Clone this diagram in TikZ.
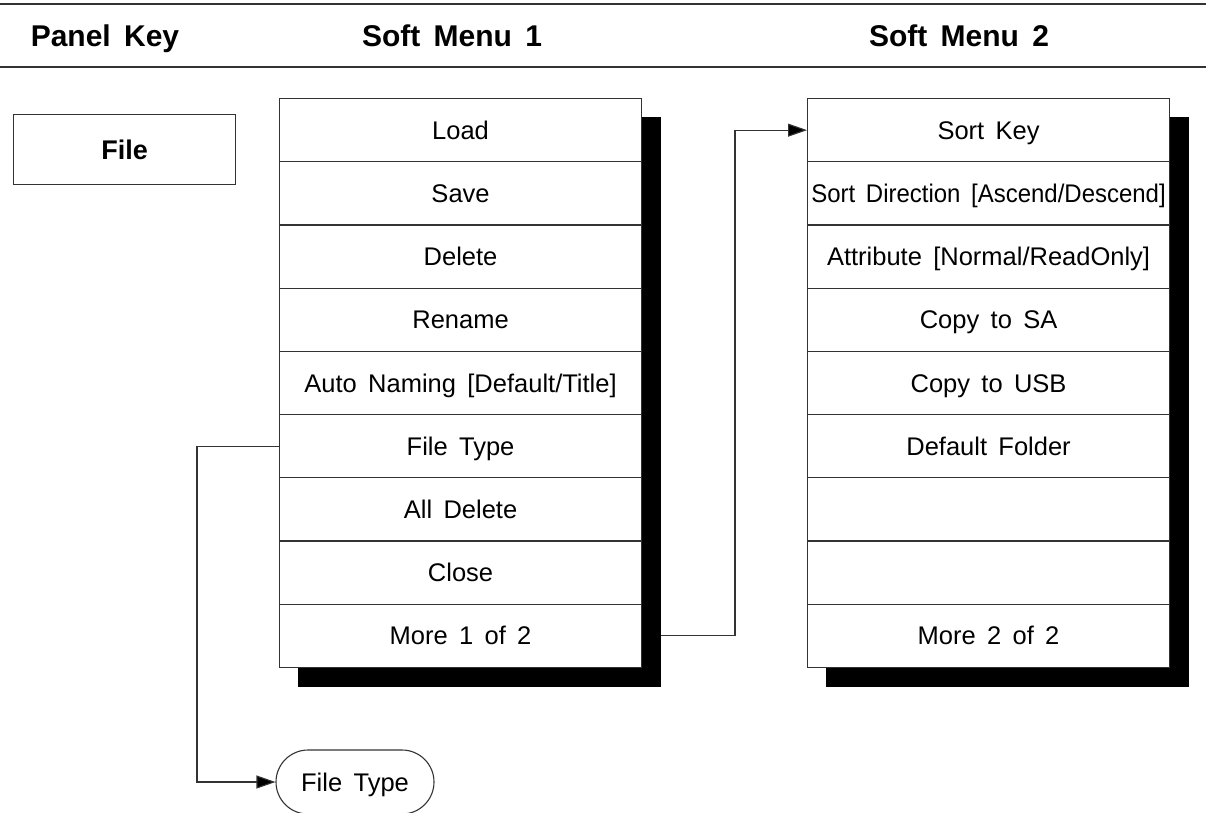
\documentclass[tikz,border=0pt]{standalone}
\usepackage{fontspec}
\setmainfont{Liberation Sans}[WordSpace=1.6]
\usetikzlibrary{arrows.meta,shapes.misc}
\begin{document}
\begin{tikzpicture}[x=1pt,y=-1pt,
  rule/.style={line width=2.2pt, draw=black!80},
  hdr/.style={font=\fontsize{30}{34}\selectfont\bfseries, anchor=base, inner sep=0},
  keybox/.style={draw=black!80, line width=1.1pt, minimum width=222pt, minimum height=70pt, inner sep=0, anchor=north west, text height=19.3pt, text depth=0pt, font=\fontsize{27}{32}\selectfont\bfseries},
  rowbox/.style={draw=black!80, fill=white, line width=1.1pt, minimum width=362pt, minimum height=63.2pt, inner sep=0, anchor=north west, text height=18.3pt, text depth=0pt, font=\fontsize{25.5}{30}\selectfont},
  shadowbox/.style={fill=black, draw=none, minimum width=363pt, minimum height=570pt, inner sep=0, anchor=north west},
  conn/.style={draw=black!80, line width=1.1pt, -{Triangle[length=19pt,width=13pt,fill=black]}},
  oval/.style={draw=black!80, fill=white, line width=1.1pt, rounded rectangle, minimum width=158pt, minimum height=64pt, inner sep=0, text height=18.3pt, text depth=0pt, font=\fontsize{25.5}{30}\selectfont}
]
\useasboundingbox (0,0) rectangle (1206,812);
% header rules
\coordinate (rl1) at (0,4);
\coordinate (rr1) at (1206,4);
\coordinate (rl2) at (0,67);
\coordinate (rr2) at (1206,67);
\draw[rule] (rl1) -- (rr1);
\draw[rule] (rl2) -- (rr2);
% headers
\node[hdr] (h1) at (105,46) {Panel Key};
\node[hdr] (h2) at (452,46) {Soft Menu 1};
\node[hdr] (h3) at (959,46) {Soft Menu 2};
% panel key
\node[keybox] (file) at (13,114) {File};
% shadows
\node[shadowbox] (sh1) at (298,117) {};
\node[shadowbox] (sh2) at (826,117) {};
% menu 1
\foreach \i/\t in {1/Load,2/Save,3/Delete,4/Rename,5/{Auto Naming [Default/Title]},6/File Type,7/All Delete,8/Close,9/More 1 of 2}{
  \node[rowbox] (m1r\i) at (279,{98+63.2*(\i-1)}) {\t};
}
% menu 2
\foreach \i/\t in {1/Sort Key,2/{\scalebox{0.94}[1]{Sort Direction [Ascend/Descend]}},3/{Attribute [Normal/ReadOnly]},4/Copy to SA,5/Copy to USB,6/Default Folder,7/{},8/{},9/More 2 of 2}{
  \node[rowbox] (m2r\i) at (807,{98+63.2*(\i-1)}) {\t};
}
% file type oval
\node[oval] (ft) at (355,782) {File Type};
% connectors
\coordinate (bend1) at (735,0);
\coordinate (bend2) at (197,0);
\draw[conn] (sh1.east |- m1r9.center) -| (bend1 |- m2r1.west) -- (m2r1.west);
\draw[conn] (m1r6.west) -| (bend2 |- ft.west) -- (ft.west);
\end{tikzpicture}
\end{document}
